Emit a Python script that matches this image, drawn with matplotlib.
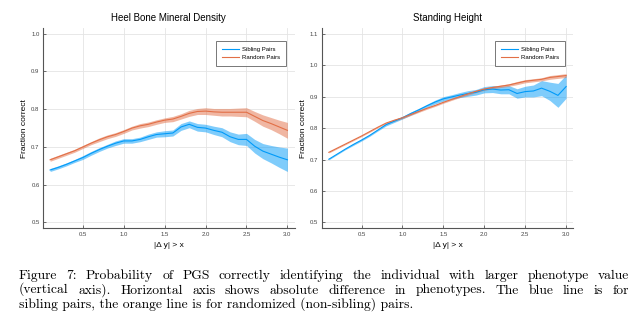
import numpy as np
import matplotlib
matplotlib.use("Agg")
import matplotlib.pyplot as plt

# Threshold on |Δy| (x axis)
thresholds = [0.1, 0.2, 0.3, 0.4, 0.5, 0.6, 0.7, 0.8, 0.9, 1.0,
              1.1, 1.2, 1.3, 1.4, 1.5, 1.6, 1.7, 1.8, 1.9, 2.0,
              2.1, 2.2, 2.3, 2.4, 2.5, 2.6, 2.7, 2.8, 2.9, 3.0]

# Heel bone mineral density
heel_sib = [0.639, 0.646, 0.654, 0.663, 0.672, 0.683, 0.693, 0.702, 0.710, 0.716,
            0.716, 0.720, 0.727, 0.733, 0.735, 0.737, 0.753, 0.760, 0.752, 0.750,
            0.744, 0.739, 0.727, 0.720, 0.720, 0.702, 0.689, 0.681, 0.673, 0.666]
heel_sib_err = [0.004, 0.004, 0.004, 0.004, 0.005, 0.005, 0.005, 0.005, 0.006, 0.006,
                0.006, 0.006, 0.007, 0.007, 0.008, 0.008, 0.009, 0.009, 0.010, 0.010,
                0.011, 0.012, 0.013, 0.014, 0.016, 0.018, 0.020, 0.023, 0.027, 0.031]
heel_rand = [0.666, 0.674, 0.682, 0.690, 0.700, 0.710, 0.719, 0.727, 0.733, 0.741,
             0.750, 0.756, 0.760, 0.766, 0.771, 0.774, 0.781, 0.789, 0.794, 0.795,
             0.793, 0.792, 0.792, 0.792, 0.792, 0.781, 0.770, 0.762, 0.753, 0.744]
heel_rand_err = [0.004, 0.004, 0.004, 0.004, 0.004, 0.004, 0.005, 0.005, 0.005, 0.005,
                 0.005, 0.006, 0.006, 0.006, 0.006, 0.007, 0.007, 0.008, 0.008, 0.009,
                 0.009, 0.010, 0.010, 0.011, 0.012, 0.013, 0.015, 0.016, 0.018, 0.021]

# Standing height
height_sib = [0.701, 0.717, 0.733, 0.748, 0.762, 0.777, 0.794, 0.811, 0.822, 0.833,
              0.846, 0.858, 0.871, 0.883, 0.893, 0.899, 0.905, 0.910, 0.914, 0.922,
              0.924, 0.921, 0.922, 0.910, 0.916, 0.918, 0.927, 0.917, 0.904, 0.932]
height_sib_err = [0.002, 0.002, 0.002, 0.003, 0.003, 0.003, 0.003, 0.004, 0.004, 0.004,
                  0.005, 0.005, 0.005, 0.006, 0.007, 0.007, 0.008, 0.009, 0.009, 0.010,
                  0.011, 0.012, 0.013, 0.015, 0.017, 0.019, 0.024, 0.029, 0.038, 0.037]
height_rand = [0.723, 0.736, 0.749, 0.762, 0.775, 0.789, 0.803, 0.816, 0.825, 0.833,
               0.843, 0.853, 0.863, 0.872, 0.882, 0.891, 0.900, 0.909, 0.917, 0.924,
               0.929, 0.933, 0.937, 0.943, 0.949, 0.952, 0.955, 0.961, 0.964, 0.967]
height_rand_err = [0.002, 0.002, 0.002, 0.002, 0.002, 0.002, 0.002, 0.002, 0.003, 0.003,
                   0.003, 0.003, 0.003, 0.003, 0.003, 0.003, 0.003, 0.004, 0.004, 0.004,
                   0.004, 0.004, 0.004, 0.005, 0.005, 0.005, 0.005, 0.006, 0.006, 0.006]

titles = ["Heel Bone Mineral Density", "Standing Height"]
series_labels = ["Sibling Pairs", "Random Pairs"]
xticks = [0.5, 1.0, 1.5, 2.0, 2.5, 3.0]
heel_yticks = [0.5, 0.6, 0.7, 0.8, 0.9, 1.0]
height_yticks = [0.5, 0.6, 0.7, 0.8, 0.9, 1.0, 1.1]

caption_lines = [
    "Figure 7: Probability of PGS correctly identifying the individual with larger phenotype value",
    "(vertical axis). Horizontal axis shows absolute difference in phenotypes. The blue line is for",
    "sibling pairs, the orange line is for randomized (non-sibling) pairs.",
]

BLUE = "#009af9"
ORANGE = "#e26f46"
SANS = ["Liberation Sans", "DejaVu Sans"]
W, H = 640, 334

fig = plt.figure(figsize=(6.4, 3.34), dpi=100)
fig.patch.set_facecolor("white")

panels = [
    (0.0672, heel_sib, heel_sib_err, heel_rand, heel_rand_err, heel_yticks, (0.485, 1.015)),
    (0.5027, height_sib, height_sib_err, height_rand, height_rand_err, height_yticks, (0.482, 1.118)),
]

x = np.array(thresholds)
for i, (left, sib, sib_e, rnd, rnd_e, yt, ylim) in enumerate(panels):
    ax = fig.add_axes([left, 0.317, 0.393, 0.599])
    sib = np.array(sib); sib_e = np.array(sib_e)
    rnd = np.array(rnd); rnd_e = np.array(rnd_e)
    ax.fill_between(x, sib - sib_e, sib + sib_e, color=BLUE, alpha=0.5, lw=0, zorder=2)
    ax.plot(x, sib, color=BLUE, lw=0.8, label=series_labels[0], zorder=3)
    ax.fill_between(x, rnd - rnd_e, rnd + rnd_e, color=ORANGE, alpha=0.5, lw=0, zorder=2)
    ax.plot(x, rnd, color=ORANGE, lw=0.8, label=series_labels[1], zorder=3)

    ax.set_xlim(0.013, 3.087)
    ax.set_ylim(*ylim)
    ax.set_xticks(xticks)
    ax.set_xticklabels([f"{t:.1f}" for t in xticks])
    ax.set_yticks(yt)
    ax.set_yticklabels([f"{t:.1f}" for t in yt])
    ax.grid(True, color="#e4e4e4", lw=0.6, zorder=0)
    ax.set_axisbelow(True)
    for s in ("top", "right"):
        ax.spines[s].set_visible(False)
    for s in ("left", "bottom"):
        ax.spines[s].set_color("#555555")
        ax.spines[s].set_linewidth(0.8)
    ax.tick_params(axis="both", direction="in", length=2, width=0.6, color="#555555",
                   labelsize=4.3, labelcolor="#444444", pad=2.5)
    for lab in ax.get_xticklabels() + ax.get_yticklabels():
        lab.set_family(SANS)

    ax.set_title(titles[i], fontsize=7, family=SANS, pad=5)
    ax.set_xlabel("|Δ y| > x", fontsize=6, family=SANS, labelpad=4)
    ax.set_ylabel("Fraction correct", fontsize=6, family=SANS, labelpad=2)

    leg = ax.legend(loc="upper right", bbox_to_anchor=(0.968, 0.935),
                    prop={"family": SANS, "size": 4.3},
                    frameon=True, fancybox=False, edgecolor="#555555", handlelength=2.8,
                    borderpad=1.0, labelspacing=0.45, handletextpad=0.55, borderaxespad=0.0)
    leg.get_frame().set_linewidth(0.7)

# Caption, set in Computer Modern with the first two lines justified
renderer = fig.canvas.get_renderer()
cap_size = 9.8
x_left, x_right = 19.0, 629.0
baselines = [279.0, 293.5, 308.0]
for li, line in enumerate(caption_lines):
    yb = 1 - baselines[li] / H
    words = line.split(" ")
    if li == len(caption_lines) - 1:
        fig.text(x_left / W, yb, line, family="cmr10", fontsize=cap_size,
                 va="baseline", ha="left")
        continue
    widths = []
    for w in words:
        t = fig.text(0, 0, w, family="cmr10", fontsize=cap_size)
        widths.append(t.get_window_extent(renderer).width)
        t.remove()
    gap = (x_right - x_left - sum(widths)) / (len(words) - 1)
    xp = x_left
    for w, wd in zip(words, widths):
        fig.text(xp / W, yb, w, family="cmr10", fontsize=cap_size,
                 va="baseline", ha="left")
        xp += wd + gap

fig.savefig("out.png", dpi=100, facecolor="white")
